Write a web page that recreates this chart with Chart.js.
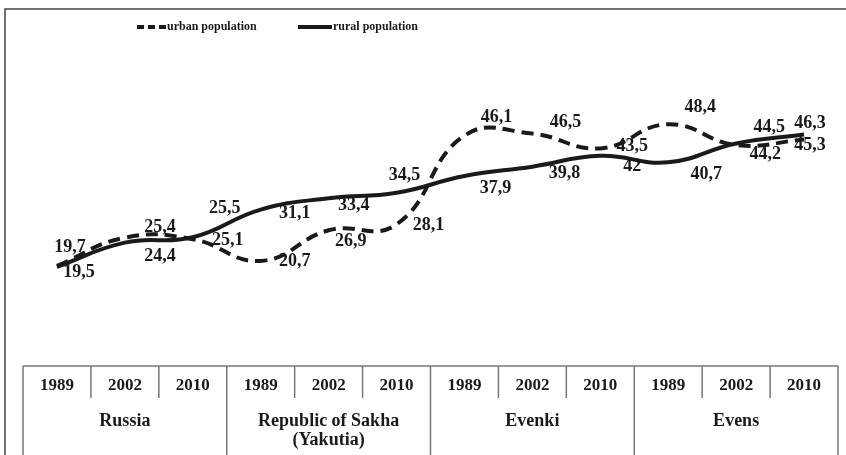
<!DOCTYPE html>
<html>
<head>
<meta charset="utf-8">
<script src="https://cdn.jsdelivr.net/npm/chart.js@4"></script>
<style>
  body { margin: 0; background: #fff; }
  #wrap { width: 846px; height: 455px; position: relative; }
</style>
</head>
<body>
<div id="wrap"><canvas id="grafico"></canvas></div>
<script>
// dados
const categories = ['1989', '2002', '2010', '1989', '2002', '2010', '1989', '2002', '2010', '1989', '2002', '2010'];
const groups = [['Russia'], ['Republic of Sakha', '(Yakutia)'], ['Evenki'], ['Evens']];
const urbanPopulation = [19.7, 25.4, 25.1, 20.7, 26.9, 28.1, 46.1, 46.5, 43.5, 48.4, 44.2, 45.3];
const ruralPopulation = [19.5, 24.4, 25.5, 31.1, 33.4, 34.5, 37.9, 39.8, 42, 40.7, 44.5, 46.3];

// posição dos rótulos (dx, dy) em relação ao ponto
const offsetUrban = [[13, -18], [35, -10], [35, 1], [34, 0], [22, 11], [32, 1], [32, -18], [33, -11], [32, -2], [32, -17], [29, 9], [6, 6]];
const offsetRural = [[22, 6], [35, 14], [32, -29], [34, 4], [25, 7], [8, -17], [31, 12], [32, 7], [32, 11], [38, 12], [33, -16], [6, -11]];

const serif = '"Liberation Serif", "Times New Roman", serif';
const ink = '#1a1a1a';

const tablePlugin = {
    id: 'tabela',
    afterDraw(chart) {
        const ctx = chart.ctx;
        const x = chart.scales.x;
        const area = chart.chartArea;
        const w = x.getPixelForValue(1) - x.getPixelForValue(0);
        const top = area.bottom + 3;
        ctx.save();
        // moldura
        ctx.strokeStyle = '#444';
        ctx.lineWidth = 1.5;
        ctx.strokeRect(5, 9, 900, 500);

        ctx.strokeStyle = '#777';
        ctx.lineWidth = 1.5;
        const left = x.getPixelForValue(0) - w / 2;
        const right = x.getPixelForValue(categories.length - 1) + w / 2;
        ctx.beginPath();
        ctx.moveTo(left, top);
        ctx.lineTo(right, top);
        for (let i = 0; i <= categories.length; i++) {
            const px = left + i * w;
            ctx.moveTo(px, top);
            ctx.lineTo(px, i % 3 === 0 ? 460 : top + 32);
        }
        ctx.stroke();

        ctx.fillStyle = ink;
        ctx.textAlign = 'center';
        ctx.textBaseline = 'middle';
        ctx.font = 'bold 17px ' + serif;
        categories.forEach((c, i) => {
            ctx.fillText(c, x.getPixelForValue(i), top + 20);
        });
        ctx.font = 'bold 18px ' + serif;
        groups.forEach((g, i) => {
            const cx = x.getPixelForValue(i * 3 + 1);
            g.forEach((line, j) => ctx.fillText(line, cx, top + 55 + j * 19));
        });

        // legenda
        ctx.font = 'bold 12px ' + serif;
        ctx.textAlign = 'left';
        ctx.strokeStyle = ink;
        ctx.lineWidth = 4;
        ctx.setLineDash([7, 4]);
        ctx.beginPath();
        ctx.moveTo(137, 27);
        ctx.lineTo(166, 27);
        ctx.stroke();
        ctx.setLineDash([]);
        ctx.beginPath();
        ctx.moveTo(298, 27);
        ctx.lineTo(332, 27);
        ctx.stroke();
        ctx.fillText('urban population', 167, 27);
        ctx.fillText('rural population', 333, 27);
        ctx.restore();
    },
    afterDatasetsDraw(chart) {
        const ctx = chart.ctx;
        ctx.save();
        ctx.fillStyle = ink;
        ctx.font = 'bold 18px ' + serif;
        ctx.textAlign = 'center';
        ctx.textBaseline = 'middle';
        const offs = [offsetUrban, offsetRural];
        chart.data.datasets.forEach((ds, d) => {
            chart.getDatasetMeta(d).data.forEach((pt, i) => {
                const txt = String(ds.data[i]).replace('.', ',');
                ctx.fillText(txt, pt.x + offs[d][i][0], pt.y + offs[d][i][1]);
            });
        });
        ctx.restore();
    }
};

const ctxGrafico = document.getElementById('grafico').getContext('2d');
const chartGrafico = new Chart(ctxGrafico, {
    type: 'line',
    data: {
        labels: categories,
        datasets: [{
            label: 'urban population',
            data: urbanPopulation,
            borderColor: ink,
            borderWidth: 4,
            borderDash: [12, 7],
            pointRadius: 0,
            tension: 0.45,
            fill: false
        }, {
            label: 'rural population',
            data: ruralPopulation,
            borderColor: ink,
            borderWidth: 4,
            pointRadius: 0,
            tension: 0.45,
            fill: false
        }]
    },
    options: {
        responsive: true,
        maintainAspectRatio: false,
        animation: false,
        layout: { padding: { left: 23, right: 8, top: 67, bottom: 92 } },
        plugins: {
            legend: { display: false },
            tooltip: { enabled: false }
        },
        scales: {
            x: { display: false, offset: true },
            y: { display: false, min: 0, max: 60 }
        }
    },
    plugins: [tablePlugin]
});
</script>
</body>
</html>
